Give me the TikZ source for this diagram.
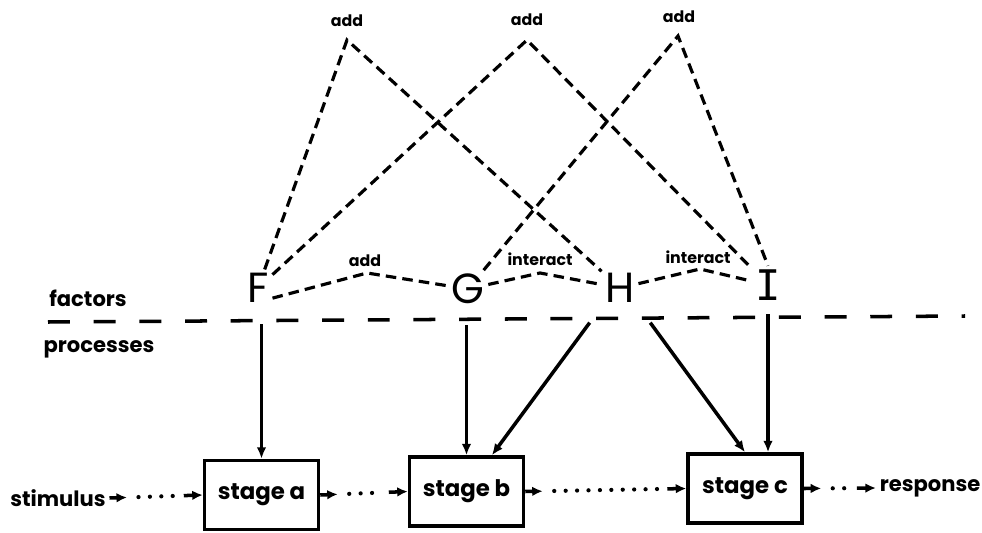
\documentclass[tikz,border=0pt]{standalone}
\usepackage{fontspec}
\setmainfont{Poppins}
\newfontfamily\barfont{DejaVu Sans Mono}
\usetikzlibrary{arrows.meta,calc}

\tikzset{
	factor/.style={font=\fontsize{24}{24}\selectfont, inner sep=2pt},
	stagebox/.style={draw, line width=2pt, minimum width=2.28cm, minimum height=1.38cm, font=\bfseries\fontsize{13}{13}\selectfont},
	term/.style={font=\bfseries\fontsize{12}{12}\selectfont, inner sep=2pt},
	small/.style={font=\bfseries\fontsize{9}{9}\selectfont, inner sep=1pt},
	link/.style={line width=1.8pt, dash pattern=on 6pt off 3.5pt},
	effect/.style={line width=2pt, -{Latex[length=6.5pt,width=5.5pt]}},
	flow/.style={line width=2pt, -{Latex[length=6pt,width=5.5pt]}},
	dots/.style={line width=2.4pt, dash pattern=on 0pt off 6.5pt, line cap=round},
}

\newcommand{\pipe}[2]{%
	\draw[flow] (#1.east) -- ($(#1.east)!0.35cm!(#2.west)$);
	\draw[dots] ($(#1.east)!0.58cm!(#2.west)$) -- ($(#2.west)!0.5cm!(#1.east)$);
	\draw[flow] ($(#2.west)!0.38cm!(#1.east)$) -- (#2.west);}

\begin{document}
\begin{tikzpicture}[x=0.02cm, y=-0.02cm]
	\useasboundingbox (0,0) rectangle (982,533);

	\node[factor] (F) at (258,288) {F};
	\node[factor] (G) at (468,289) {G};
	\node[factor] (H) at (620,288) {H};
	\node[factor, font=\barfont\fontsize{24}{24}\selectfont] (I) at (768,285) {I};

	\node[term] (fac) at (88,298) {factors};
	\node[term] (proc) at (99,349) {processes};

	\node[small] (add1) at (347,21) {add};
	\node[small] (add2) at (527,20) {add};
	\node[small] (add3) at (679,17) {add};
	\coordinate (t1) at (347,40);
	\coordinate (t2) at (527,40);
	\coordinate (t3) at (678,36);

	\node[small] (addFG) at (365,261) {add};
	\node[small] (intGH) at (540,259) {interact};
	\node[small] (intHI) at (698,257) {interact};
	\coordinate (p1) at (367,273);
	\coordinate (p2) at (540,273);
	\coordinate (p3) at (700,269);

	\draw[link] (F) -- (t1) -- (H);
	\draw[link] (F) -- (t2) -- (I);
	\draw[link] (G) -- (t3) -- (I.north);
	\draw[link] (F.-35) -- (p1) -- (G) -- (p2) -- (H) -- (p3) -- (I);

	\draw[line width=2pt, dash pattern=on 12.5pt off 13.5pt] (48,322) -- (965,316);

	\node[term] (stim) at (58,498) {stimulus};
	\node[stagebox] (sa) at (261.5,495) {stage a};
	\node[stagebox] (sb) at (466.5,491.5) {stage b};
	\node[stagebox] (sc) at (745,488.5) {stage c};
	\node[term] (resp) at (930,488) {response};

	\pipe{stim}{sa}
	\pipe{sa}{sb}
	\pipe{sb}{sc}
	\pipe{sc}{resp}

	\draw[effect, shorten <=0.35cm] (F.south -| sa.north) -- (sa.north);
	\draw[effect, shorten <=0.35cm] (G.south -| sb.north) -- (sb.north);
	\draw[effect, shorten <=0.4cm] (H.south west) -- (sb.55);
	\draw[effect, shorten <=0.4cm] (H.south east) -- (sc.north);
	\draw[effect, shorten <=0.2cm] (I.south) -- (I.south |- sc.north);
\end{tikzpicture}
\end{document}
